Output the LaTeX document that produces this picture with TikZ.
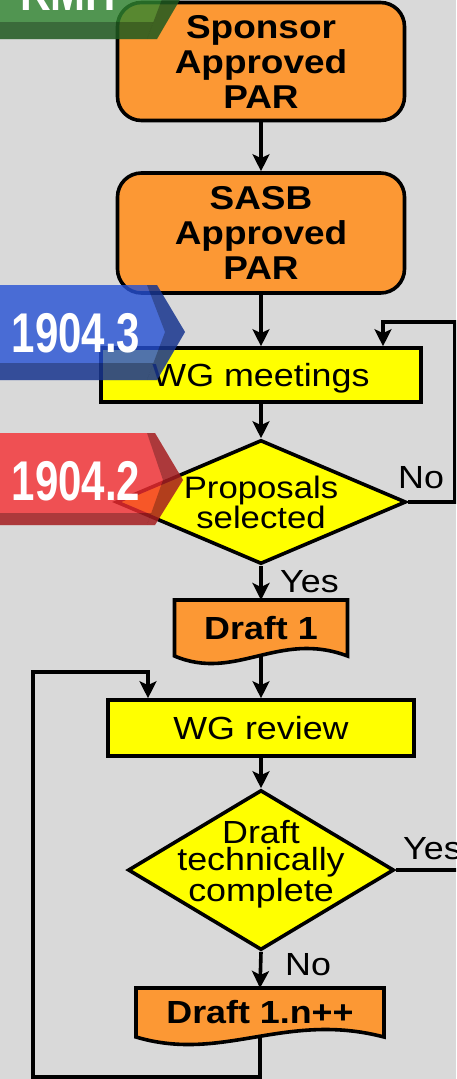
\documentclass[tikz,border=0pt]{standalone}
\usepackage{fontspec}
\setmainfont{Liberation Sans}[FakeStretch=1.12]
\newfontfamily\narrowfont{Liberation Sans}[FakeStretch=0.75]
\usetikzlibrary{arrows.meta,shapes.geometric,calc}
\pgfdeclarelayer{bg}
\pgfsetlayers{bg,main}
\definecolor{bggray}{RGB}{217,217,217}
\definecolor{boxorange}{RGB}{252,152,52}
\definecolor{boxyellow}{RGB}{255,255,0}
\definecolor{banblue}{RGB}{38,81,213}
\definecolor{banred}{RGB}{245,46,50}
\definecolor{bangreen}{RGB}{48,133,48}
\begin{document}
\begin{tikzpicture}[x=1pt,y=-1pt,
  thickline/.style={line width=3.6pt},
  parbox/.style={draw, thickline, fill=boxorange, rounded corners=24pt, minimum width=287pt, minimum height=118pt, inner sep=0pt, align=center, font=\bfseries\fontsize{33}{35}\selectfont},
  flowbox/.style={draw, thickline, fill=boxyellow, inner sep=0pt, font=\fontsize{32}{34}\selectfont, text depth=0pt},
  decision/.style={draw, thickline, fill=boxyellow, diamond, inner sep=0pt},
  doctext/.style={inner sep=0pt, outer sep=0pt, font=\bfseries\fontsize{32}{34}\selectfont},
  docbox/.style={draw, thickline, fill=boxorange},
  lbl/.style={inner sep=0pt, anchor=base west, font=\fontsize{32}{34}\selectfont},
  dtext/.style={inner sep=0pt, align=center},
  conn/.style={thickline, -{Stealth[length=17pt,width=17pt,inset=4pt]}},
  banshade/.style={fill=black, fill opacity=0.28},
  bannerT/.style={text=white, inner sep=0pt, anchor=base, font=\narrowfont\bfseries\fontsize{56}{56}\selectfont}
]
\useasboundingbox (0,0) rectangle (456,1079);
\begin{pgfonlayer}{bg}
\fill[bggray] (0,0) rectangle (456,1079);
\end{pgfonlayer}
\clip (0,0) rectangle (456,1079);

% nodes
\node[parbox] (sponsor) at (261,61.5) {Sponsor\\Approved\\PAR};
\node[parbox, minimum height=120pt] (sasb) at (261,233) {SASB\\Approved\\PAR};
\node[flowbox, minimum width=320pt, minimum height=54pt] (wgm) at (261,375) {WG meetings};
\node[decision, minimum width=290pt, minimum height=124pt] (prop) at (261,502) {};
\node[dtext, font=\fontsize{31}{27}\selectfont] (proptext) at (261,502) {Proposals\\selected};
\node[doctext, minimum width=173pt, minimum height=56pt] (d1) at (261,628) {Draft 1};
\node[flowbox, minimum width=306pt, minimum height=56pt] (wgr) at (261,728) {WG review};
\node[decision, minimum width=266pt, minimum height=160pt] (q2) at (261,870) {};
\node[dtext, font=\fontsize{32}{27.5}\selectfont] (q2text) at (261,864) {Draft\\technically\\complete};
\node[doctext, minimum width=248pt, minimum height=49pt] (d2) at (260,1012.5) {Draft 1.n++};

% document shapes
\begin{pgfonlayer}{bg}
\draw[docbox] (d1.south west) -- (d1.north west) -- (d1.north east) -- (d1.south east)
  .. controls ($(d1.south east)+(-69,-26)$) and ($(d1.south west)+(61,26)$) .. (d1.south west) -- cycle;
\draw[docbox] (d2.south west) -- (d2.north west) -- (d2.north east) -- (d2.south east)
  .. controls ($(d2.south east)+(-99,-26)$) and ($(d2.south west)+(87,26)$) .. (d2.south west) -- cycle;
\end{pgfonlayer}

% labels
\node[lbl] (no1) at (398,488) {No};
\node[lbl] (yes1) at (280,592) {Yes};
\node[lbl] (yes2) at (403,859) {Yes};
\node[lbl] (no2) at (285,975) {No};

% connectors
\coordinate (noR) at (455,502);
\coordinate (noT) at (383,322);
\coordinate (lb) at (33,1077);
\coordinate (lt) at (148,672);
\coordinate (yesR) at (460,870);
\draw[conn] (sponsor.south) -- (sasb.north);
\draw[conn] (sasb.south) -- (wgm.north);
\draw[conn] (wgm.south) -- (prop.north);
\draw[conn] (prop.south) -- (d1.north);
\draw[conn] (d1.south) -- (wgr.north);
\draw[conn] (wgr.south) -- (q2.north);
\draw[conn] (q2.south) -- (d2.north);
\draw[conn] (prop.east) -- (noR) |- (noT) -- (noT |- wgm.north);
\draw[conn] (d2.south) |- (lb) |- (lt) -- (lt |- wgr.north);
\draw[thickline] (q2.east) -- (yesR);

% banners
\fill[bangreen, fill opacity=0.8] (0,-56) -- (157,-56) -- (185,-9) -- (157,39) -- (0,39) -- cycle;
\fill[banshade] (0,22) -- (153.4,22) -- (147,39) -- (0,39) -- cycle;
\fill[banshade] (147,-56) -- (157,-56) -- (185,-9) -- (157,39) -- (147,39) -- (165,-9) -- cycle;
\node[bannerT] (bkmh) at (68,10) {KMH};

\fill[banblue, fill opacity=0.8] (0,285) -- (157,285) -- (185,332) -- (157,380) -- (0,380) -- cycle;
\fill[banshade] (0,363) -- (153.4,363) -- (147,380) -- (0,380) -- cycle;
\fill[banshade] (147,285) -- (157,285) -- (185,332) -- (157,380) -- (147,380) -- (165,332) -- cycle;
\node[bannerT] (b3) at (76,352) {1904.3};

\fill[banred, fill opacity=0.8] (0,433) -- (155,433) -- (183,480) -- (155,525) -- (0,525) -- cycle;
\fill[banshade] (0,513) -- (151.3,513) -- (147,525) -- (0,525) -- cycle;
\fill[banshade] (147,433) -- (155,433) -- (183,480) -- (155,525) -- (147,525) -- (163,480) -- cycle;
\node[bannerT] (b2) at (76,500) {1904.2};
\end{tikzpicture}
\end{document}
